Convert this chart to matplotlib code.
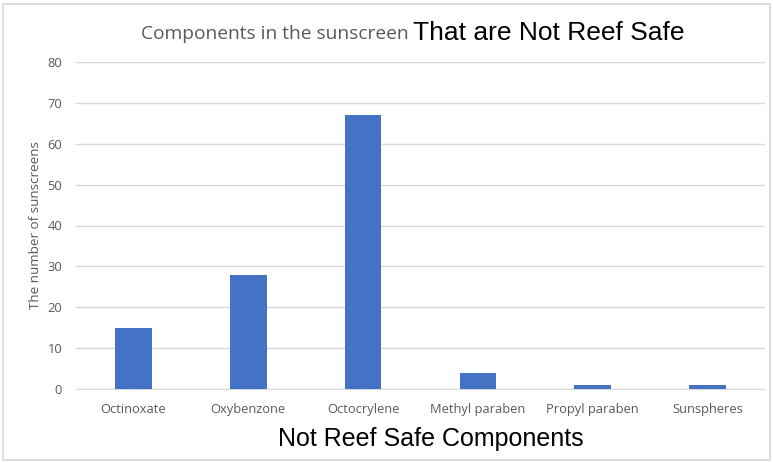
import matplotlib
matplotlib.use("Agg")
import matplotlib.pyplot as plt
from matplotlib.patches import Rectangle

# -----------------------------
# DATA
# -----------------------------
components = ["Octinoxate", "Oxybenzone", "Octocrylene",
              "Methyl paraben", "Propyl paraben", "Sunspheres"]
counts = [15, 28, 67, 4, 1, 1]
y_ticks = [0, 10, 20, 30, 40, 50, 60, 70, 80]

W, H = 773, 462
fig = plt.figure(figsize=(W / 100, H / 100), dpi=100)
ax = fig.add_axes([76 / W, 73 / H, (765 - 76) / W, (389 - 62) / H])

ax.bar(range(len(components)), counts, width=0.32, color="#4472C4", zorder=3)
ax.set_xlim(-0.5, len(components) - 0.5)
ax.set_ylim(0, 80)
ax.set_yticks(y_ticks)
ax.set_xticks(range(len(components)))
ax.set_xticklabels(components)

gray = "#595959"
for lab in ax.get_xticklabels() + ax.get_yticklabels():
    lab.set_family("Open Sans")
    lab.set_fontsize(9.3)
    lab.set_color(gray)
ax.tick_params(length=0, pad=10)
ax.tick_params(axis="x", pad=10)

ax.grid(axis="y", color="#d9d9d9", linewidth=1, zorder=0)
for s in ["top", "right", "left"]:
    ax.spines[s].set_visible(False)
ax.spines["bottom"].set_color("#d9d9d9")

ax.set_ylabel("The number of sunscreens", family="Open Sans", fontsize=9.7,
              color=gray, labelpad=4)
ax.set_xlabel("Not Reef Safe Components", family="Liberation Sans",
              fontsize=18, color="black", labelpad=1)
ax.xaxis.set_label_coords((431 - 76) / (765 - 76), -0.115)

# two-part title
fig.text(409 / W, 1 - 39 / H, "Components in the sunscreen", family="Open Sans",
         fontsize=13.8, color=gray, ha="right", va="baseline")
fig.text(413 / W, 1 - 40 / H, "That are Not Reef Safe", family="Liberation Sans",
         fontsize=19, color="black", ha="left", va="baseline")

# chart border
fig.patches.append(Rectangle((3 / W, 2 / H), (W - 6) / W, (H - 6) / H,
                             transform=fig.transFigure, fill=False,
                             edgecolor="#d9d9d9", linewidth=1.2))

plt.savefig("out.png", dpi=100)
